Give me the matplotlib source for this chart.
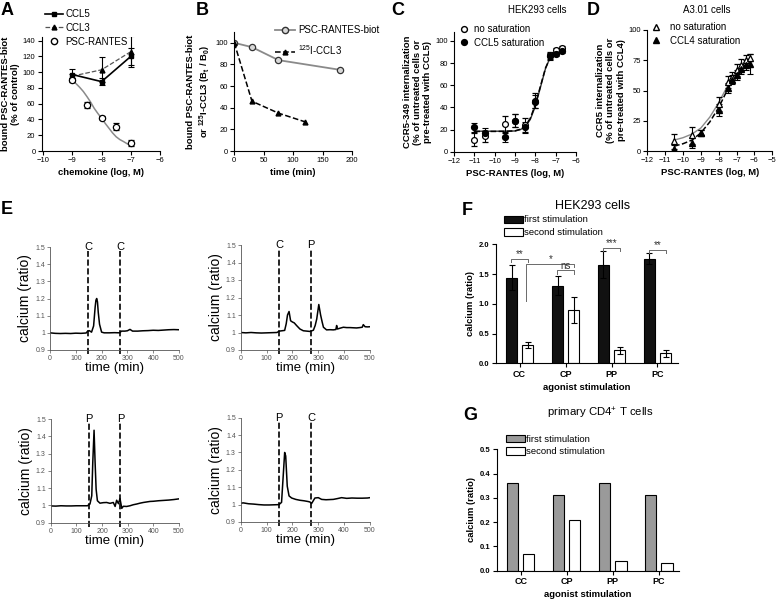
# -*- coding: utf-8 -*-
"""
Figura compuesta: unión PSC-RANTES, internalización de CCR5 y señal de calcio.
"""

import matplotlib
matplotlib.use('Agg')
import matplotlib.pyplot as plt
from matplotlib.lines import Line2D

plt.rcParams['font.family'] = ['Liberation Sans', 'DejaVu Sans']
plt.rcParams['axes.linewidth'] = 0.8
plt.rcParams['mathtext.default'] = 'regular'

TickSize = 5.5
LabelSize = 6.8
LegendSize = 7
LetterSize = 13

#%% Datos

# A: unión competitiva
conc_A = [-9, -8, -7]
ccl5_A = [97, 88, 120]
ccl5_A_err = [7, 4, 11]
ccl3_A = [95, 103, 126]
ccl3_A_err = [3, 16, 20]
conc_psc_A = [-9, -8.5, -8, -7.5, -7]
psc_A = [90, 58, 42, 31, 10]
psc_A_err = [3, 4, 2, 4, 4]
fit_x_A = [-9, -8.875, -8.75, -8.625, -8.5, -8.375, -8.25, -8.125, -8, -7.875,
           -7.75, -7.625, -7.5, -7.375, -7.25, -7.125, -7]
fit_y_A = [88.8, 85.5, 80.8, 75.5, 69, 62, 54, 47.5, 41.5, 35,
           29, 23, 18, 14.5, 12, 9.2, 7]

# B: disociación
t_psc_B = [0, 30, 75, 180]
psc_B = [100, 96, 84, 75]
t_ccl3_B = [0, 30, 75, 120]
ccl3_B = [100, 46, 35, 27]

# C: HEK293
x_C = [-11, -10.5, -9.5, -9, -8.5, -8, -7.3, -7.0, -6.7]
nosat_C = [11, 14, 25, 28, 24, 46, 87, 91.5, 93.5]
nosat_C_err = [6, 5, 7, 6, 6, 7, 3, 2, 2]
sat_C = [22, 17, 13, 28, 22, 45, 86, 88, 91]
sat_C_err = [4, 4, 4, 6, 5, 6, 3, 2, 2]
fit_x_C = [-11, -10.5, -10, -9.5, -9, -8.75, -8.5, -8.25, -8, -7.75, -7.5, -7.25, -7, -6.7]
fit_nosat_C = [18.5, 18.5, 18.5, 18.5, 18.7, 19.8, 22.5, 29, 41, 58, 75, 86, 91, 93.5]
fit_sat_C = [18.3, 18.3, 18.3, 18.4, 18.8, 20.2, 23.5, 30, 42.5, 59, 75.5, 85.5, 90, 92.5]

# D: A3.01
x_D = [-10.5, -9.5, -9, -8, -7.5, -7.25, -7, -6.75, -6.5, -6.25]
nosat_D = [8, 13, 15, 39, 57, 61, 67, 71, 75, 77]
nosat_D_err = [6, 7, 2, 6, 5, 4, 5, 5, 4, 3]
sat_D = [2, 6.5, 15, 34, 52, 59, 63, 68, 71, 72]
sat_D_err = [3, 4, 2, 5, 4, 4, 4, 4, 4, 8]
fit_x_D = [-10.5, -10, -9.5, -9, -8.5, -8, -7.5, -7, -6.5, -6.25]
fit_nosat_D = [9, 11, 14, 19, 28, 40, 54, 66, 74, 77]
fit_sat_D = [4, 6, 9, 15, 24, 36, 51, 64, 72, 75]

# E: trazas de calcio
E_panels = [
    dict(marks=('C', 'C'),
         t=[0, 20, 40, 60, 80, 100, 120, 140, 145, 152, 161, 169, 175, 178, 181, 184, 187, 192,
            200, 210, 230, 250, 270, 277, 290, 300, 310, 320, 340, 360, 380, 400, 420, 440,
            460, 480, 500],
         v=[1.0, 0.997, 0.996, 0.997, 0.996, 0.998, 0.997, 0.999, 1.008, 1.013, 1.004, 1.04,
            1.15, 1.19, 1.2, 1.18, 1.12, 1.05, 1.004, 1.0, 1.0, 1.001, 1.0, 1.01, 1.01, 1.012,
            1.02, 1.01, 1.01, 1.012, 1.013, 1.015, 1.014, 1.016, 1.018, 1.019, 1.018]),
    dict(marks=('C', 'P'),
         t=[0, 20, 40, 60, 80, 100, 120, 140, 150, 160, 170, 176, 181, 187, 193, 200, 207, 216,
            229, 242, 255, 268, 281, 288, 294, 302, 309, 315, 320, 332, 345, 358, 368, 371,
            374, 385, 397, 410, 423, 435, 448, 460, 470, 474, 481, 490, 500],
         v=[1.0, 0.998, 1.0, 0.998, 0.997, 0.998, 0.999, 1.0, 1.008, 1.01, 1.012, 1.05, 1.1,
            1.12, 1.067, 1.06, 1.055, 1.04, 1.02, 1.01, 1.008, 1.006, 1.013, 1.04, 1.077, 1.16,
            1.1, 1.06, 1.03, 1.015, 1.016, 1.015, 1.017, 1.04, 1.02, 1.025, 1.03, 1.028, 1.028,
            1.027, 1.026, 1.028, 1.03, 1.045, 1.033, 1.032, 1.033]),
    dict(marks=('P', 'P'),
         t=[0, 20, 40, 60, 80, 100, 120, 143, 153, 160, 164, 169, 173, 177, 182, 192, 205, 218,
            231, 244, 251, 257, 264, 270, 277, 283, 296, 309, 322, 335, 348, 361, 374, 387,
            400, 420, 440, 460, 480, 500],
         v=[0.997, 0.996, 0.998, 0.997, 0.997, 0.998, 0.998, 0.998, 1.008, 1.056, 1.25, 1.435,
            1.25, 1.094, 1.027, 1.013, 1.016, 1.017, 1.012, 1.017, 0.994, 1.03, 1.01, 1.04,
            0.983, 0.995, 0.994, 0.998, 1.004, 1.008, 1.013, 1.017, 1.02, 1.023, 1.024, 1.027,
            1.029, 1.031, 1.034, 1.038]),
    dict(marks=('P', 'C'),
         t=[0, 10, 30, 50, 70, 90, 110, 130, 148, 158, 165, 170, 174, 180, 187, 197, 213, 229,
            245, 260, 268, 274, 287, 300, 313, 330, 358, 375, 390, 410, 430, 450, 470, 490, 500],
         v=[1.008, 1.01, 1.005, 1.003, 1.0, 0.998, 0.998, 0.999, 1.0, 1.013, 1.18, 1.3, 1.28,
            1.106, 1.05, 1.038, 1.03, 1.025, 1.022, 1.018, 1.015, 1.006, 1.038, 1.04, 1.03,
            1.028, 1.03, 1.035, 1.04, 1.036, 1.038, 1.037, 1.037, 1.038, 1.04]),
]
stim_times = [148, 272]

# F y G: barras
groups = ['CC', 'CP', 'PP', 'PC']
first_F = [1.44, 1.30, 1.66, 1.76]
first_F_err = [0.21, 0.16, 0.23, 0.09]
second_F = [0.31, 0.89, 0.22, 0.17]
second_F_err = [0.05, 0.22, 0.06, 0.06]
first_G = [0.36, 0.31, 0.36, 0.31]
second_G = [0.07, 0.21, 0.04, 0.03]

#%% Figura

W, H = 778, 600
fig = plt.figure(figsize=(W / 100, H / 100), dpi=100)


def px_axes(x0, y0, x1, y1):
    # caja en píxeles (izq, arriba, der, abajo)
    return fig.add_axes([x0 / W, 1 - y1 / H, (x1 - x0) / W, (y1 - y0) / H])


def prism(ax):
    ax.spines['top'].set_visible(False)
    ax.spines['right'].set_visible(False)
    ax.tick_params(direction='out', length=3, width=0.8, labelsize=TickSize, pad=1.5)


def fig_legend(ax, handles, labels, x, y, **kw):
    opts = dict(loc='upper left', bbox_to_anchor=(x / W, 1 - y / H), bbox_transform=fig.transFigure,
                frameon=False, fontsize=LegendSize, borderpad=0, borderaxespad=0)
    opts.update(kw)
    if handles is None:
        ax.legend(**opts)
    else:
        ax.legend(handles, labels, **opts)


def fig_title(x, y, txt, size):
    fig.text(x / W, 1 - y / H, txt, ha='center', va='center', fontsize=size)


ebar = dict(capsize=2, elinewidth=0.8, capthick=0.8)

# ---- A
ax = px_axes(41.7, 36.7, 160, 151)
prism(ax)
ax.plot(fit_x_A, fit_y_A, color='#8a8a8a', lw=1.1)
ax.errorbar(conc_A, ccl3_A, yerr=ccl3_A_err, color='#555555', ls='--', lw=0.9, marker='^',
            ms=3.5, mfc='k', mec='k', ecolor='k', **ebar)
ax.errorbar(conc_A, ccl5_A, yerr=ccl5_A_err, color='k', lw=1.2, marker='s', ms=3.5, **ebar)
ax.errorbar(conc_psc_A, psc_A, yerr=psc_A_err, ls='none', marker='o', ms=4.5, mfc='w',
            mec='k', mew=0.9, ecolor='k', **ebar)
ax.set_xlim(-10.05, -6)
ax.set_ylim(0, 145)
ax.set_xticks([-10, -9, -8, -7, -6])
ax.set_yticks(range(0, 141, 20))
ax.set_xlabel('chemokine (log, M)', fontsize=LabelSize, fontweight='bold', labelpad=3)
ax.set_ylabel('bound PSC-RANTES-biot\n(% of control)', fontsize=LabelSize, fontweight='bold',
              labelpad=2)
fig_legend(ax,
           [Line2D([], [], color='k', lw=1.2, marker='s', ms=3.5),
            Line2D([], [], color='#555555', ls='--', lw=0.9, marker='^', ms=3.5, mfc='k', mec='k'),
            Line2D([], [], ls='none', marker='o', ms=4.5, mfc='w', mec='k')],
           ['CCL5', 'CCL3', 'PSC-RANTES'], 45, 9,
           handlelength=1.85, handletextpad=0.25, labelspacing=0.4)

# ---- B
ax = px_axes(234.3, 32, 352, 151)
prism(ax)
ax.plot(t_psc_B, psc_B, color='#8a8a8a', lw=1.3, marker='o', ms=4.5, mfc='#d8d8d8',
        mec='#333333', mew=0.9)
ax.plot(t_ccl3_B, ccl3_B, color='k', ls='--', lw=1.1, marker='^', ms=3.5)
ax.set_xlim(0, 200)
ax.set_ylim(0, 110)
ax.set_xticks(range(0, 201, 50))
ax.set_yticks(range(0, 101, 20))
ax.set_xlabel('time (min)', fontsize=LabelSize, fontweight='bold', labelpad=3)
ax.set_ylabel('bound PSC-RANTES-biot\nor $^{125}$I-CCL3 (B$_t$ / B$_0$)', fontsize=LabelSize,
              fontweight='bold', labelpad=2)
fig_legend(ax,
           [Line2D([], [], color='#8a8a8a', lw=1.3, marker='o', ms=4.5, mfc='#d8d8d8',
                   mec='#333333'),
            Line2D([], [], color='k', ls='--', lw=1.1, marker='^', ms=3.5)],
           ['PSC-RANTES-biot', '$^{125}$I-CCL3'], 275, 25,
           handlelength=2.1, handletextpad=0.3, labelspacing=0.85)

# ---- C
ax = px_axes(454, 32, 576, 151.7)
prism(ax)
ax.plot(fit_x_C, fit_nosat_C, color='#333333', lw=1.0)
ax.plot(fit_x_C, fit_sat_C, color='k', ls='--', lw=1.1)
ax.errorbar(x_C, nosat_C, yerr=nosat_C_err, ls='none', marker='o', ms=4.2, mfc='w', mec='k',
            mew=0.9, ecolor='k', **ebar)
ax.errorbar(x_C, sat_C, yerr=sat_C_err, ls='none', marker='o', ms=4.2, mfc='k', mec='k',
            ecolor='k', **ebar)
ax.set_xlim(-12, -6)
ax.set_ylim(0, 108)
ax.set_xticks(range(-12, -5))
ax.set_yticks(range(0, 101, 20))
ax.set_xlabel('PSC-RANTES (log, M)', fontsize=LabelSize, fontweight='bold', labelpad=3)
ax.set_ylabel('CCR5-349 internalization\n(% of untreated cells or\npre-treated with CCL5)',
              fontsize=LabelSize, fontweight='bold', labelpad=2)
fig_title(537, 10, 'HEK293 cells', 7)
fig_legend(ax,
           [Line2D([], [], ls='none', marker='o', ms=4.2, mfc='w', mec='k'),
            Line2D([], [], ls='none', marker='o', ms=4.2, mfc='k', mec='k')],
           ['no saturation', 'CCL5 saturation'], 459, 24,
           handlelength=1.0, handletextpad=0.55, labelspacing=0.4)

# ---- D
ax = px_axes(647.3, 30, 772.3, 151)
prism(ax)
ax.plot(fit_x_D, fit_nosat_D, color='#8a8a8a', lw=1.0)
ax.plot(fit_x_D, fit_sat_D, color='k', ls='--', lw=1.1)
ax.errorbar(x_D, nosat_D, yerr=nosat_D_err, ls='none', marker='^', ms=4.2, mfc='w', mec='k',
            mew=0.9, ecolor='k', **ebar)
ax.errorbar(x_D, sat_D, yerr=sat_D_err, ls='none', marker='^', ms=4.2, mfc='k', mec='k',
            ecolor='k', **ebar)
ax.set_xlim(-12, -5)
ax.set_ylim(0, 100)
ax.set_xticks(range(-12, -4))
ax.set_yticks(range(0, 101, 25))
ax.set_xlabel('PSC-RANTES (log, M)', fontsize=LabelSize, fontweight='bold', labelpad=3)
ax.set_ylabel('CCR5 internalization\n(% of untreated cells or\npre-treated with CCL4)',
              fontsize=LabelSize, fontweight='bold', labelpad=2)
fig_title(707, 10, 'A3.01 cells', 7)
fig_legend(ax,
           [Line2D([], [], ls='none', marker='^', ms=4.2, mfc='w', mec='k'),
            Line2D([], [], ls='none', marker='^', ms=4.2, mfc='k', mec='k')],
           ['no saturation', 'CCL4 saturation'], 651, 22,
           handlelength=1.0, handletextpad=1.0, labelspacing=0.4)

# ---- E
E_boxes = [(50, 247, 179, 350), (240.7, 245, 370, 350),
           (50.7, 419, 179, 522.7), (240.7, 417.7, 370, 522)]
for box, p in zip(E_boxes, E_panels):
    ax = px_axes(*box)
    for s in ['top', 'right']:
        ax.spines[s].set_visible(False)
    for s in ['left', 'bottom']:
        ax.spines[s].set_color('#555555')
        ax.spines[s].set_linewidth(0.6)
    ax.tick_params(direction='out', length=2, width=0.5, colors='#555555', labelsize=5, pad=1.5)
    ax.plot(p['t'], p['v'], color='k', lw=1.1)
    for ts, lab in zip(stim_times, p['marks']):
        ax.plot([ts, ts], [0.875, 1.475], color='k', ls='--', lw=1.2, clip_on=False)
        ax.text(ts, 1.5, lab, ha='center', va='center', fontsize=8)
    ax.set_xlim(0, 500)
    ax.set_ylim(0.9, 1.5)
    ax.set_xticks(range(0, 501, 100))
    ax.set_yticks([0.9, 1.0, 1.1, 1.2, 1.3, 1.4, 1.5])
    ax.set_yticklabels(['0.9', '1', '1.1', '1.2', '1.3', '1.4', '1.5'])
    ax.set_xlabel('time (min)', fontsize=9.5, labelpad=0)
    ax.set_ylabel('calcium (ratio)', fontsize=10, labelpad=2)

# ---- F y G
pos = list(range(len(groups)))
off, bw = 0.175, 0.25
ekw = dict(capsize=2.5, elinewidth=0.8, capthick=0.8)

ax = px_axes(495.7, 244.3, 677.7, 363.3)
prism(ax)
ax.bar([p - off for p in pos], first_F, bw, yerr=first_F_err, color='#111111', edgecolor='k',
       lw=0.8, error_kw=ekw, label='first stimulation')
ax.bar([p + off for p in pos], second_F, bw, yerr=second_F_err, color='w', edgecolor='k',
       lw=0.8, error_kw=ekw, label='second stimulation')
brk = '#6a6a6a'
# corchetes de significancia
for g, yb, txt in [(0, 1.75, '**'), (2, 1.93, '***'), (3, 1.90, '**')]:
    ax.plot([g - 0.18, g - 0.18, g + 0.18, g + 0.18], [yb - 0.05, yb, yb, yb - 0.05],
            color=brk, lw=0.7, clip_on=False)
    ax.text(g, yb + 0.01, txt, ha='center', va='bottom', fontsize=7, color='#333333')
ax.plot([0.82, 0.82, 1.18, 1.18], [1.50, 1.56, 1.56, 1.50], color=brk, lw=0.7)
ax.text(1, 1.555, 'ns', ha='center', va='bottom', fontsize=7, color='#333333')
ax.plot([0.15, 0.15, 1.18, 1.18], [1.04, 1.67, 1.67, 1.62], color=brk, lw=0.7)
ax.text(0.67, 1.665, '*', ha='center', va='bottom', fontsize=7, color='#333333')
ax.set_xlim(-0.52, 3.44)
ax.set_ylim(0, 2.0)
ax.set_xticks(pos)
ax.set_xticklabels(groups, fontweight='bold', fontsize=6.5)
ax.set_yticks([0, 0.5, 1.0, 1.5, 2.0])
ax.set_yticklabels(['0.0', '0.5', '1.0', '1.5', '2.0'], fontweight='bold')
ax.set_xlabel('agonist stimulation', fontsize=LabelSize, fontweight='bold', labelpad=3)
ax.set_ylabel('calcium (ratio)', fontsize=LabelSize, fontweight='bold', labelpad=3)
fig_title(593, 206, 'HEK293 cells', 9)
fig_legend(ax, None, None, 504, 215.5, fontsize=6.8, handlelength=2.0, handleheight=0.8,
           handletextpad=0.15, labelspacing=0.4)

ax = px_axes(496.7, 449.3, 679, 570.7)
prism(ax)
ax.bar([p - off for p in pos], first_G, bw, color='#9a9a9a', edgecolor='k', lw=0.8,
       label='first stimulation')
ax.bar([p + off for p in pos], second_G, bw, color='w', edgecolor='k', lw=0.8,
       label='second stimulation')
ax.set_xlim(-0.52, 3.44)
ax.set_ylim(0, 0.5)
ax.set_xticks(pos)
ax.set_xticklabels(groups, fontweight='bold', fontsize=6.5)
ax.set_yticks([0, 0.1, 0.2, 0.3, 0.4, 0.5])
ax.set_yticklabels(['0.0', '0.1', '0.2', '0.3', '0.4', '0.5'], fontweight='bold')
ax.set_xlabel('agonist stimulation', fontsize=LabelSize, fontweight='bold', labelpad=3)
ax.set_ylabel('calcium (ratio)', fontsize=LabelSize, fontweight='bold', labelpad=3)
fig_title(600, 413, 'primary CD4$^{+}$ T cells', 8.2)
fig_legend(ax, None, None, 506, 434.5, fontsize=6.8, handlelength=2.0, handleheight=0.8,
           handletextpad=0.15, labelspacing=0.4)

# letras de panel
for lab, x, y in [('A', 1, 2), ('B', 196, 2), ('C', 391, 2), ('D', 587, 2),
                  ('E', 1, 201), ('F', 462, 202), ('G', 463, 407)]:
    fig.text(x / W, 1 - y / H, lab, ha='left', va='top', fontsize=LetterSize, fontweight='bold')

fig.savefig('out.png', dpi=100)
